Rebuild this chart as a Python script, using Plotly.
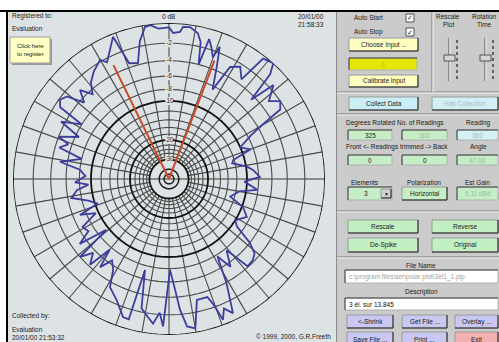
import plotly.graph_objects as go

W, H = 499, 342

# ---------------- data ----------------
# relative level in dB versus rotation angle (deg, clockwise from north)
angles = [0, 1.6, 4.3, 5.3, 7.9, 11.2, 13, 14.5, 16, 18, 19.8, 21, 23, 26, 28.6, 32.4,
          36, 38, 42, 44, 46, 48, 52, 55, 58, 60, 62, 66, 70, 73.5, 76, 81, 84, 88.7,
          92, 97, 100, 106, 110.7, 116, 122, 125, 128.3, 131, 134, 138, 141, 145, 148,
          151, 154.5, 157, 159, 160.5, 162, 167, 170, 173, 175.2, 176.9, 179.4, 182.3,
          184, 186.3, 188.7, 192, 194.8, 196, 198.4, 203.3, 208.6, 211.6, 215, 218, 220,
          222.6, 225.8, 228.8, 231, 234, 237, 241, 245, 248, 251, 255, 259, 263, 266,
          268, 272, 276, 279, 283, 286, 289, 291, 295, 298, 302, 303.4, 306, 309, 312,
          315, 318, 321, 325, 330, 332, 335, 338.5, 341, 345, 348, 351, 353, 356, 360]
levels_db = [-0.4, -0.95, -0.8, -0.3, -0.25, -0.7, -1.5, -4.0, -1.0, -1.8, -2.7, -1.4, -3.5,
             -6.5, -2.9, -2.3, -3.4, -0.3, 0.0, -1.0, -4.5, -1.5, -3.0, -2.0, -2.5, -5.5,
             -7.5, -10.0, -8.5, -12.2, -12.6, -9.8, -8.8, -7.8, -10.5, -8.1, -11.3, -12.9,
             -9.8, -8.5, -10.0, -9.1, -6.0, -4.6, -4.2, -4.1, -7.7, -5.4, -7.7, -4.0, -0.7,
             -1.5, -0.5, -2.3, -3.3, -3.3, -0.4, -0.7, -2.5, -5.0, -7.8, -0.8, -2.2, -1.0,
             -1.6, -2.4, -7.3, -0.95, -1.0, -2.4, -3.4, -5.5, -6.5, -4.8, -7.6, -4.2, -5.6,
             -4.0, -9.5, -5.0, -7.0, -6.6, -9.5, -7.0, -10.5, -9.0, -6.5, -7.5, -9.5, -7.3,
             -9.0, -8.0, -5.0, -8.0, -4.5, -5.5, -4.0, -6.5, -3.5, -6.0, -2.6, -2.1, -2.5,
             -4.5, -3.1, -4.5, -3.3, -2.5, -1.8, -2.4, -1.5, -0.3, -3.5, -3.8, -1.5, -0.2,
             -0.1, -0.5, -0.4]

# -3 dB beamwidth markers (47 deg)
beam_angles = [334, 21]
beam_db = -3

# grid definition
ring_db_thin = [-2, -4, -6, -8, -12, -14, -16, -18, -22, -24, -26, -28]
ring_db_bold = [0, -10, -20, -30]
ring_db_inner = [-40, -50]
spoke_angles = [a for a in range(0, 360, 10) if a not in (90, 270)]
axis_angles = [90, 270]
spoke_inner_db = -30
label_db = [-2, -4, -6, -8, -10, -20, -30]
label_text = ["-2", "-4", "-6", "-8", "-10", "-20", "-30"]


def rad(db):
    return 2 ** (db / 10.0)


PLOT_BG = "#dde2e5"
PANEL_BG = "#cbcbcb"
FONT = "Liberation Sans, Arial, sans-serif"

fig = go.Figure()

ring_theta = list(range(0, 361, 2))


def rings_trace(dbs, color, width):
    th, rr = [], []
    for d in dbs:
        th += ring_theta + [None]
        rr += [rad(d)] * len(ring_theta) + [None]
    return go.Scatterpolar(theta=th, r=rr, mode="lines", cliponaxis=False,
                           line=dict(color=color, width=width), hoverinfo="skip",
                           showlegend=False)


# spokes
sp_t, sp_r = [], []
for a in spoke_angles:
    sp_t += [a, a, None]
    sp_r += [rad(spoke_inner_db), rad(0), None]
fig.add_trace(go.Scatterpolar(theta=sp_t, r=sp_r, mode="lines", cliponaxis=False,
                              line=dict(color="#4a4a4a", width=1.1), hoverinfo="skip",
                              showlegend=False))
ax_t, ax_r = [], []
for a in axis_angles:
    ax_t += [a, a, None]
    ax_r += [0, rad(0), None]
fig.add_trace(go.Scatterpolar(theta=ax_t, r=ax_r, mode="lines", cliponaxis=False,
                              line=dict(color="#8c8c8c", width=2), hoverinfo="skip",
                              showlegend=False))
fig.add_trace(rings_trace(ring_db_thin, "#4a4a4a", 1.1))
fig.add_trace(rings_trace(ring_db_inner, "#1a1a1a", 1.5))
fig.add_trace(rings_trace(ring_db_bold, "#111111", 1.8))

# dB labels on the vertical axis
fig.add_trace(go.Scatterpolar(theta=[0] * len(label_db), r=[rad(d) for d in label_db],
                              mode="markers+text", text=label_text, textposition="middle center",
                              marker=dict(symbol="square", size=8, color=PLOT_BG),
                              textfont=dict(size=6.5, color="#303030", family=FONT),
                              cliponaxis=False, hoverinfo="skip", showlegend=False))

# beamwidth markers
bt, br = [], []
for a in beam_angles:
    bt += [a, a, None]
    br += [0, rad(beam_db), None]
fig.add_trace(go.Scatterpolar(theta=bt, r=br, mode="lines", cliponaxis=False,
                              line=dict(color="#c84a28", width=2), hoverinfo="skip",
                              showlegend=False))

# measured pattern
fig.add_trace(go.Scatterpolar(theta=angles, r=[rad(d) for d in levels_db], mode="lines",
                              cliponaxis=False, line=dict(color="#3d3d9e", width=1.8),
                              hoverinfo="skip", showlegend=False))

# ---------------- UI chrome ----------------
shapes, annots = [], []


def X(x):
    return x / W


def Y(y):
    return 1 - y / H


def rect(x0, y0, x1, y1, fill, line=None, lw=1):
    shapes.append(dict(type="rect", xref="paper", yref="paper", x0=X(x0), x1=X(x1),
                       y0=Y(y1), y1=Y(y0), fillcolor=fill, layer="above",
                       line=dict(color=line if line else fill, width=lw if line else 0)))


def seg(x0, y0, x1, y1, color, w=1, dash=None):
    ln = dict(color=color, width=w)
    if dash:
        ln["dash"] = dash
    shapes.append(dict(type="line", xref="paper", yref="paper", x0=X(x0), x1=X(x1),
                       y0=Y(y0), y1=Y(y1), line=ln, layer="above"))


def txt(x, y, s, anchor="left", size=6.5, color="#1a1a1a"):
    annots.append(dict(x=X(x), y=Y(y), xref="paper", yref="paper", text=s, showarrow=False,
                       xanchor=anchor, yanchor="middle", align=anchor if anchor != "center" else "center",
                       font=dict(size=size, color=color, family=FONT)))


def button(x0, y0, x1, y1, fill, label, color="#1a1a1a"):
    rect(x0, y0, x1, y1, fill, "#9a9a9a", 1)
    seg(x0, y1, x1, y1, "#202020", 1)
    seg(x1, y0, x1, y1, "#202020", 1)
    txt((x0 + x1) / 2, (y0 + y1) / 2, label, "center", 6.5, color)


def box(x0, y0, x1, y1, fill, label, color="#1a1a1a", anchor="center"):
    rect(x0, y0, x1, y1, fill, "#b0b0b0", 1)
    seg(x0, y0, x1, y0, "#404040", 1)
    seg(x0, y0, x0, y1, "#404040", 1)
    if anchor == "center":
        txt((x0 + x1) / 2, (y0 + y1) / 2, label, "center", 6.5, color)
    else:
        txt(x0 + 2, (y0 + y1) / 2, label, "left", 6.5, color)


def etched_h(x0, x1, y):
    seg(x0, y, x1, y, "#7a7a7a", 1)
    seg(x0, y + 1, x1, y + 1, "#f4f4f4", 1)


def etched_v(x, y0, y1):
    seg(x, y0, x, y1, "#7a7a7a", 1)
    seg(x + 1, y0, x + 1, y1, "#f4f4f4", 1)


# frame
rect(0, 0, W, 10, "#ffffff")
rect(0, 0, 6, H, "#ffffff")
seg(0, 11, W, 11, "#000000", 2)
seg(7, 11, 7, H, "#000000", 2)
rect(337, 12, W, H, PANEL_BG)
seg(336.5, 12, 336.5, H, "#8a8a8a", 1)

# plot area texts
txt(10, 16, "Registered to:")
txt(10, 28, "Evaluation")
rect(12, 39, 52, 65, "#9a9a9a")
rect(10, 37, 50, 63, "#ffffc4", "#a0a0a0", 1)
txt(30, 50, "Click here<br>to register", "center", 6)
txt(168, 17, "0 dB", "center", 6.5)
txt(326, 16, "20/01/00", "right", 6.5)
txt(326, 25, "21:58:33", "right", 6.5)
txt(10, 316, "Collected by:")
txt(10, 329, "Evaluation")
txt(10, 337.5, "20/01/00 21:53:32")
txt(333, 336.5, "© 1999, 2000, G.R.Freeth", "right", 6.5)

# right panel
txt(352, 18, "Auto Start")
txt(352, 32, "Auto Stop")
for cy in (18, 32):
    rect(406, cy - 4, 414, cy + 4, "#ffffff", "#505050", 1)
    txt(410, cy, "✓", "center", 7, "#101010")
button(349, 38, 418, 51, "#ffffc2", "Choose Input ...")
box(349, 58, 417, 70, "#e6e600", "0", "#b8b800")
button(349, 75, 418, 87, "#ffffc2", "Calibrate Input")
txt(448, 17, "Rescale", "center")
txt(448, 25, "Plot", "center")
txt(484, 17, "Rotation", "center")
txt(484, 25, "Time", "center")
for sx in (449, 485):
    seg(sx, 38, sx, 81, "#505050", 1)
    seg(sx + 1, 38, sx + 1, 81, "#f4f4f4", 1)
    seg(sx + 8, 40, sx + 8, 80, "#404040", 1.5, "dot")
    rect(sx - 5, 55, sx + 6, 61, "#d6d6d6", "#505050", 1)
etched_h(337, W, 92)
etched_v(432, 12, 92)
button(349, 97, 418, 110, "#c8eef6", "Collect Data")
button(432, 97, 498, 110, "#d2eff6", "Halt Collection", "#a4bcc4")
etched_h(337, W, 114)
txt(344, 123, "Degrees Rotated No. of Readings")
txt(478, 123, "Reading", "center")
box(348, 130, 392, 140, "#c6eec6", "325")
box(402, 130, 447, 140, "#c6eec6", "360", "#9cb89c")
box(457, 130, 498, 140, "#d4f2f6", "360", "#a0b8c0")
txt(344, 147, "Front <- Readings trimmed -> Back")
txt(478, 147, "Angle", "center")
box(348, 155, 392, 165, "#c6eec6", "0")
box(402, 155, 447, 165, "#c6eec6", "0")
box(457, 155, 498, 165, "#c6eec6", "47.00", "#9cb89c")
txt(365, 182, "Elements", "center")
txt(424, 182, "Polarization", "center")
txt(477, 182, "Est Gain", "center")
box(348, 187, 392, 200, "#c6eec6", "")
txt(366, 193.5, "3", "center")
button(381, 189, 391, 198, "#d0d0d0", "")
txt(386, 193.5, "▼", "center", 5)
button(402, 187, 447, 200, "#c6eec6", "Horizontal")
box(457, 187, 498, 200, "#c6eec6", "5.11 dBd", "#9cb89c")
etched_h(337, W, 211)
button(348, 220, 418, 233, "#c2f0c2", "Rescale")
button(432, 220, 498, 233, "#c2f0c2", "Reverse")
button(348, 238, 418, 252, "#c2f0c2", "De-Spike")
button(432, 238, 498, 252, "#c2f0c2", "Original")
etched_h(337, W, 257)
txt(421, 265, "File Name", "center")
box(345, 270, 498, 283, "#ffffff", "c:\\program files\\ser\\polar plot\\3el1_1.plp", "#a0a0a0", "left")
txt(421, 292, "Description", "center")
box(345, 298, 498, 310, "#ffffff", "3 él. sur 13.845", "#111111", "left")
button(347, 315, 393, 328, "#c8c8f2", "<-Shrink")
button(402, 315, 447, 328, "#c8c8f2", "Get File ...")
button(455, 315, 498, 328, "#c8c8f2", "Overlay ...")
button(347, 332, 393, 346, "#c8c8f2", "Save File ...")
button(402, 332, 447, 346, "#c8c8f2", "Print ...")
button(455, 332, 498, 346, "#f2b0b0", "Exit")

fig.update_layout(
    width=W, height=H, margin=dict(l=0, r=0, t=0, b=0),
    paper_bgcolor=PLOT_BG, plot_bgcolor=PLOT_BG,
    showlegend=False, shapes=shapes, annotations=annots,
    polar=dict(
        domain=dict(x=[13 / W, 325 / W], y=[1 - 335 / H, 1 - 23 / H]),
        bgcolor="rgba(0,0,0,0)",
        radialaxis=dict(range=[0, 1], visible=False),
        angularaxis=dict(rotation=90, direction="clockwise", showgrid=False,
                         showline=False, showticklabels=False, ticks=""),
    ),
)

fig.write_html(
    "out.html",
    config={"displayModeBar": False},
    post_script="document.body.style.margin='0px';document.body.style.overflow='hidden';",
)
